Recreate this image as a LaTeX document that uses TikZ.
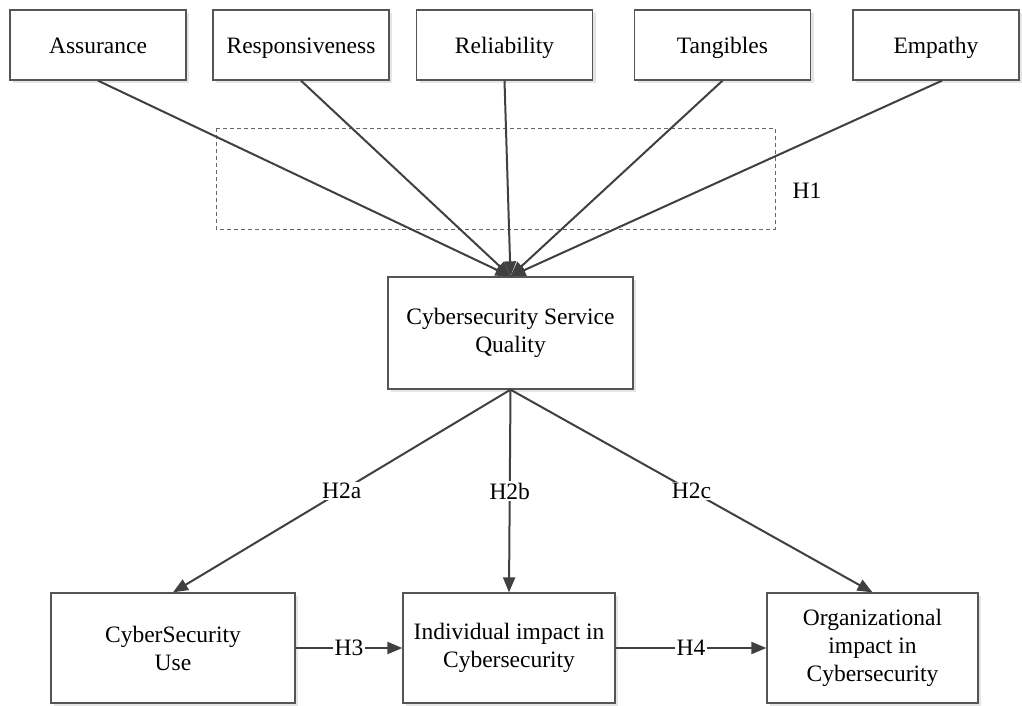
\documentclass[tikz,border=0pt]{standalone}
\usepackage{fontspec}
\setmainfont{Liberation Serif}
\usetikzlibrary{arrows.meta,shadows}
\definecolor{lineclr}{HTML}{404040}
\definecolor{boxclr}{HTML}{555555}
\tikzset{
  box/.style={draw=boxclr, line width=1.3pt, fill=white, align=center,
    inner sep=2pt, font=\fontsize{23.5}{28}\selectfont,
    drop shadow={shadow xshift=3pt, shadow yshift=-3pt, fill=black!10, opacity=1}},
  topbox/.style={box, minimum width=176pt, minimum height=70pt, text height=16pt, text depth=0pt},
  conn/.style={draw=lineclr, line width=2pt, -{Triangle[length=15pt,width=12pt]}},
  hlab/.style={fill=white, inner sep=1.5pt, font=\fontsize{23.5}{28}\selectfont}
}
\begin{document}
\begin{tikzpicture}[x=1pt,y=-1pt]
\useasboundingbox (0,0) rectangle (1022,705);
% dashed H1 frame
\draw[draw=black!60, line width=1pt, dash pattern=on 4pt off 3pt] (216,128) rectangle (775,229);
\node[font=\fontsize{23.5}{28}\selectfont] (h1) at (807,191) {H1};
% top boxes
\node[topbox] (ass) at (98,45) {Assurance};
\node[topbox] (res) at (301,45) {Responsiveness};
\node[topbox] (rel) at (504.5,45) {Reliability};
\node[topbox] (tan) at (722.5,45) {Tangibles};
\node[topbox, minimum width=166pt] (emp) at (936,45) {Empathy};
% quality
\node[box, minimum width=245pt, minimum height=112pt] (qual) at (510.5,333) {Cybersecurity Service\\Quality};
% bottom
\node[box, minimum width=244pt, minimum height=110pt] (use) at (173,648) {CyberSecurity\\Use};
\node[box, minimum width=212pt, minimum height=110pt] (ind) at (509,648) {Individual impact in\\Cybersecurity};
\node[box, minimum width=211pt, minimum height=110pt] (org) at (872.5,648) {Organizational\\impact in\\Cybersecurity};
% H1 connectors
\draw[conn] (ass.south) -- (qual.north);
\draw[conn] (res.south) -- (qual.north);
\draw[conn] (rel.south) -- (qual.north);
\draw[conn] (tan.south) -- (qual.north);
\draw[conn] ([xshift=6pt]emp.south) -- (qual.north);
% H2
\draw[conn] (qual.south) -- node[hlab] {H2a} (use.north);
\draw[conn] (qual.south) -- node[hlab] {H2b} (ind.north);
\draw[conn] (qual.south) -- node[hlab] {H2c} (org.north);
% H3, H4
\draw[conn] (use.east) -- node[hlab] {H3} (ind.west);
\draw[conn] (ind.east) -- node[hlab] {H4} (org.west);
\end{tikzpicture}
\end{document}
